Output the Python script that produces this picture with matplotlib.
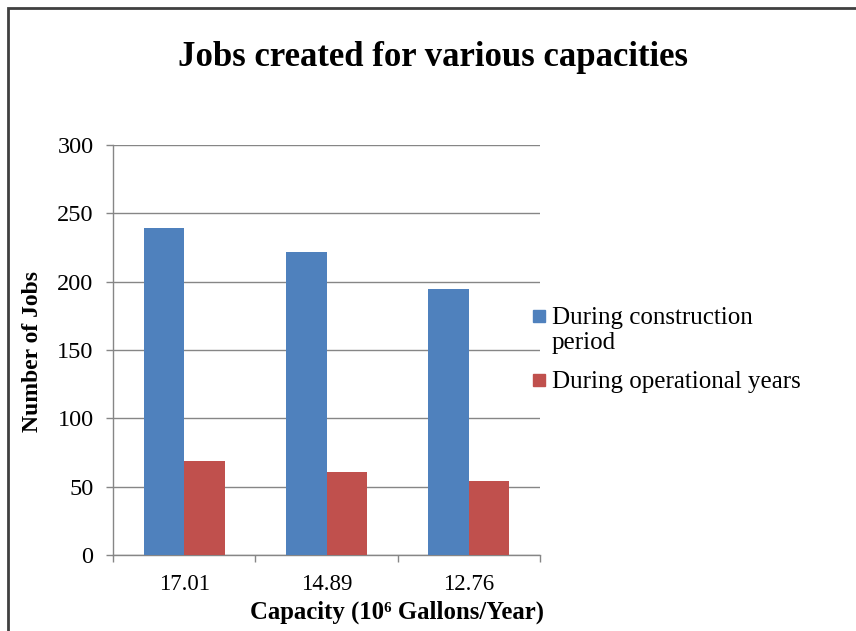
import numpy as np
import matplotlib
matplotlib.use('Agg')
import matplotlib.pyplot as plt
from matplotlib.patches import Rectangle

plt.rcParams['font.family'] = ['Liberation Serif', 'DejaVu Serif']

# Data
capacities = ['17.01', '14.89', '12.76']
construction = [239, 222, 195]
operational = [69, 61, 54]
series_names = ['During construction\nperiod', 'During operational years']
yticks = [0, 50, 100, 150, 200, 250, 300]

blue = '#4F81BD'
red = '#C0504D'
grey = '#868686'

W, H = 856, 631
fig = plt.figure(figsize=(W/100, H/100), dpi=100)
ax = fig.add_axes([113/W, 1 - 555/H, 427/W, 410/H])

x = np.arange(len(capacities))
w = 0.285
ax.bar(x - w/2, construction, w, color=blue, zorder=3)
ax.bar(x + w/2, operational, w, color=red, zorder=3)

ax.set_xlim(-0.5, len(capacities) - 0.5)
ax.set_ylim(0, 300)
ax.set_yticks(yticks)
ax.yaxis.grid(True, color=grey, lw=1)
ax.set_axisbelow(True)

# tick marks between categories, labels at centres
ax.set_xticks(np.arange(len(capacities) + 1) - 0.5)
ax.set_xticklabels([])
ax.set_xticks(x, minor=True)
ax.set_xticklabels(capacities, minor=True)
ax.tick_params(axis='x', which='major', length=5, color=grey, width=1)
ax.tick_params(axis='x', which='minor', length=0, pad=14, labelsize=16.5)
ax.tick_params(axis='y', length=5, color=grey, width=1, labelsize=17.5, pad=9)

for s in ['top', 'right']:
    ax.spines[s].set_visible(False)
for s in ['left', 'bottom']:
    ax.spines[s].set_color(grey)
    ax.spines[s].set_linewidth(1)

ax.set_xlabel('Capacity (10\u2076 Gallons/Year)', fontsize=17.8, fontweight='bold')
ax.xaxis.set_label_coords((397 - 113) / 427, (555 - 612) / 410)
ax.xaxis.label.set_va('center')
ax.set_ylabel('Number of Jobs', fontsize=17, fontweight='bold')
ax.yaxis.set_label_coords((33 - 113) / 427, (555 - 351) / 410)
ax.yaxis.label.set_va('center')

fig.text(433/W, 1 - 58/H, 'Jobs created for various capacities',
         ha='center', va='center', fontsize=25, fontweight='bold')

# legend, Excel style: square marker next to the first text line
leg_colors = [blue, red]
leg_tops = [302, 366]
for name, col, top in zip(series_names, leg_colors, leg_tops):
    fig.add_artist(Rectangle((533/W, 1 - (top + 20)/H), 12/W, 12/H,
                             transform=fig.transFigure, color=col))
    fig.text(552/W, 1 - (top + 5)/H, name, ha='left', va='top', fontsize=18,
             linespacing=1.2)

# outer chart border
fig.add_artist(Rectangle((8/W, -0.05), 1.2, 1 - 8/H + 0.05,
                         transform=fig.transFigure, fill=False,
                         edgecolor='#404040', lw=2))

fig.savefig('out.png', dpi=100)
